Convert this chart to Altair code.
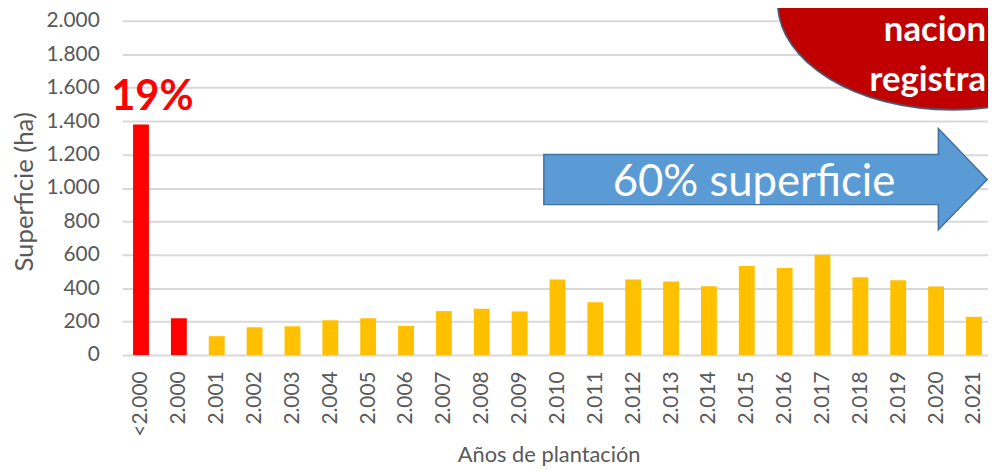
import altair as alt
import pandas as pd

# ---- data ----
categorias = ["<2.000", "2.000", "2.001", "2.002", "2.003", "2.004", "2.005", "2.006",
              "2.007", "2.008", "2.009", "2.010", "2.011", "2.012", "2.013", "2.014",
              "2.015", "2.016", "2.017", "2.018", "2.019", "2.020", "2.021"]
superficie = [1380, 220, 113, 166, 172, 208, 220, 174, 263, 277, 261, 452, 316,
              452, 440, 412, 533, 521, 600, 466, 448, 410, 229]
grupo = ["antiguo", "antiguo"] + ["reciente"] * 21
y_ticks = [0, 200, 400, 600, 800, 1000, 1200, 1400, 1600, 1800, 2000]

FONT = "Lato"
GREY = "#595959"

idx = list(range(len(categorias)))
df = pd.DataFrame({"ix": idx, "cat": categorias, "sup": superficie, "grupo": grupo})

W, H = 873, 337
# category slots: the excel plot area runs a little past the right edge
xscale = alt.Scale(domain=[-0.5, 22.371], nice=False, zero=False, padding=0)
yscale = alt.Scale(domain=[0, 2000], nice=False, zero=True)

cat_js = "[" + ",".join("'" + c + "'" for c in categorias) + "]"
xaxis = alt.Axis(title="Años de plantación", values=idx,
                 labelExpr=cat_js + "[round(datum.value)]",
                 labelAngle=-90, labelFontSize=21, labelColor=GREY, labelFont=FONT,
                 labelPadding=16, ticks=False, tickSize=0, domain=False, grid=False,
                 titleFontSize=22, titleFont=FONT, titleColor=GREY,
                 titleFontWeight="normal", titleX=338, titleY=107, titleAlign="left",
                 titleBaseline="alphabetic", labelOverlap=False, labelFlush=False)
yaxis = alt.Axis(title="Superficie (ha)", values=y_ticks,
                 labelExpr="replace(format(datum.value, ','), ',', '.')",
                 labelFontSize=21, labelColor=GREY, labelFont=FONT,
                 labelPadding=23, ticks=False, tickSize=0, domain=False,
                 gridColor="#D9D9D9", gridWidth=2, titleFontSize=26,
                 titleFont=FONT, titleColor=GREY, titleFontWeight="normal",
                 titleX=-98, titleY=172, titleAngle=270, titleAlign="center",
                 titleBaseline="middle")

X = lambda f: alt.X(f, type="quantitative", scale=xscale, axis=xaxis)
Y = lambda f: alt.Y(f, type="quantitative", scale=yscale, axis=yaxis)

bars = alt.Chart(df).mark_bar(size=16).encode(
    x=X("ix"),
    y=Y("sup"),
    color=alt.Color("grupo:N", scale=alt.Scale(domain=["antiguo", "reciente"],
                                               range=["#FF0000", "#FFC000"]), legend=None),
)

# ---- annotations (positions in category-index / hectare units) ----
arrow = pd.DataFrame({
    "ix": [10.64, 21.06, 21.0601, 22.35],
    "sup": [900, 900, 750, 1050],
    "hi": [1200, 1200, 1355, 1050],
})
arrow_layer = alt.Chart(arrow).mark_area(
    fill="#5B9BD5", stroke="#41719C", strokeWidth=1.5, opacity=1
).encode(x=X("ix"), y=Y("sup"), y2="hi:Q")

arrow_text = alt.Chart(pd.DataFrame({"ix": [16.19], "sup": [951], "t": ["60% superficie"]})).mark_text(
    font=FONT, fontSize=44, color="white", align="center", baseline="alphabetic"
).encode(x=X("ix"), y=Y("sup"), text="t:N")

pct_text = alt.Chart(pd.DataFrame({"ix": [0.30], "sup": [1468], "t": ["19%"]})).mark_text(
    font=FONT, fontSize=42, fontWeight="bold", color="#FF0000", align="center",
    baseline="alphabetic"
).encode(x=X("ix"), y=Y("sup"), text="t:N")

ELLIPSE = "M-1,0 A1,0.614 0 1,1 1,0 A1,0.614 0 1,1 -1,0 Z"
oval = alt.Chart(pd.DataFrame({"ix": [21.43], "sup": [2109]})).mark_point(
    shape=ELLIPSE, size=123904, filled=True, fill="#C00000", stroke="#44546A",
    strokeWidth=2, opacity=1, strokeOpacity=0.9
).encode(x=X("ix"), y=Y("sup"))

oval_df = pd.DataFrame({"ix": [22.32, 22.32], "sup": [1880, 1582], "t": ["nacion", "registra"]})
oval_text = alt.Chart(oval_df).mark_text(
    font=FONT, fontSize=35, fontWeight="bold", color="white",
    align="right", baseline="alphabetic"
).encode(x=X("ix"), y=Y("sup"), text="t:N")

chart = alt.layer(
    bars, arrow_layer, arrow_text, pct_text, oval, oval_text
).properties(
    width=W, height=H,
    autosize=alt.AutoSizeParams(type="none"),
    padding={"left": 115, "top": 11, "right": 0, "bottom": 112},
    background="white",
).configure(font=FONT).configure_view(stroke=None)

chart.save("out.html", embed_options={"renderer": "svg", "actions": False})
